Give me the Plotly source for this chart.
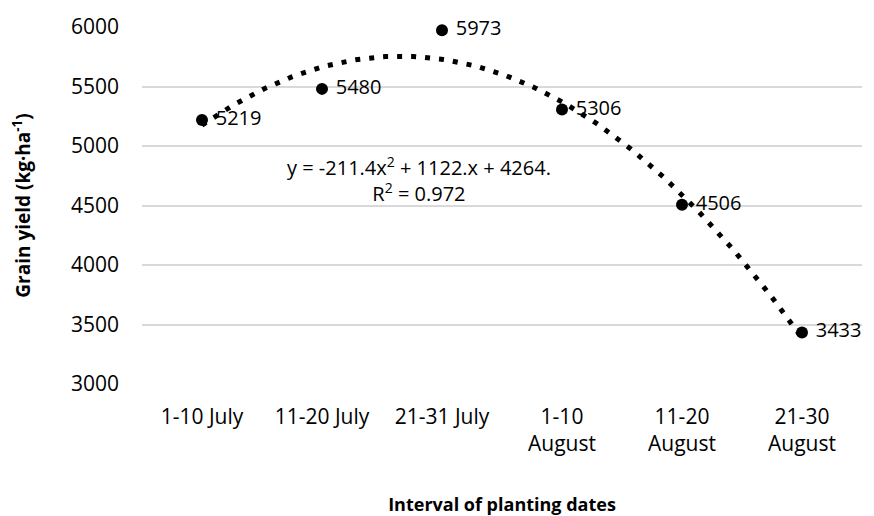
import numpy as np
import plotly.graph_objects as go

# planting date intervals and grain yield (kg/ha)
intervals = ["1-10 July", "11-20 July", "21-31 July", "1-10<br>August", "11-20<br>August", "21-30<br>August"]
yield_vals = [5219, 5480, 5973, 5306, 4506, 3433]
y_ticks = [3000, 3500, 4000, 4500, 5000, 5500, 6000]

# polynomial trendline (order 2), fitted like Excel does
x_idx = np.arange(1, len(yield_vals) + 1)
coef = np.polyfit(x_idx, yield_vals, 2)
x_fine = np.linspace(1, len(yield_vals), 200)
y_fine = np.polyval(coef, x_fine)

fig = go.Figure()

fig.add_trace(go.Scatter(
    x=x_fine - 1, y=y_fine, mode="lines",
    line=dict(color="black", width=5, dash="5px,9px"),
    hoverinfo="skip", showlegend=False,
))

fig.add_trace(go.Scatter(
    x=list(range(len(intervals))), y=yield_vals, mode="markers+text",
    marker=dict(color="black", size=12),
    text=[" " + str(v) for v in yield_vals], textposition="middle right",
    textfont=dict(size=20, color="black"),
    cliponaxis=False, showlegend=False,
))

fig.add_annotation(
    x=1.81, y=4720, xref="x", yref="y",
    text="y = -211.4x<sup>2</sup> + 1122.x + 4264.<br>R<sup>2</sup> = 0.972",
    showarrow=False, align="center", font=dict(size=20, color="black"),
)

fig.update_xaxes(
    tickmode="array", tickvals=list(range(len(intervals))), ticktext=intervals,
    range=[-0.5, 5.5], showgrid=False, zeroline=False, showline=False,
    ticks="", ticklabelstandoff=18, automargin=False,
    tickfont=dict(size=21, color="black"),
    title=dict(text="<b>Interval of planting dates</b>", font=dict(size=18, color="black"), standoff=52),
)
fig.update_yaxes(
    range=[3000, 6000], tickvals=y_ticks, showgrid=True, gridcolor="#d9d9d9", gridwidth=2,
    zeroline=False, showline=False, ticks="", ticklabelstandoff=22, automargin=False,
    tickfont=dict(size=21, color="black"),
    title=dict(text="<b>Grain yield (kg·ha<sup>-1</sup>)</b>", font=dict(size=19, color="black"), standoff=36),
)

# page has an 8px body margin, so the figure is a bit smaller than the window
fig.update_layout(
    width=866, height=508,
    margin=dict(l=134, r=12, t=19, b=132),
    plot_bgcolor="white", paper_bgcolor="white",
    font=dict(family="Open Sans, sans-serif"),
)

fig.write_html("out.html")
